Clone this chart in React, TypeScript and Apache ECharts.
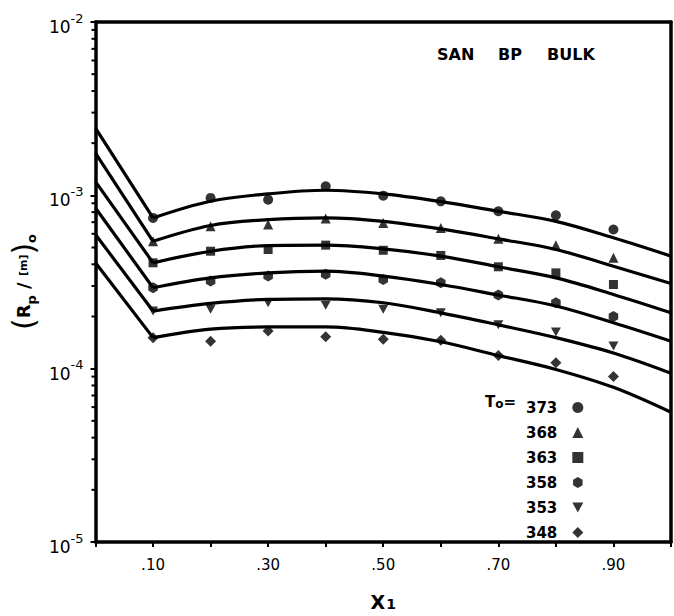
import React, { useEffect, useRef } from "react";
import * as echarts from "echarts";

const FONT = '"DejaVu Sans", "Liberation Sans", sans-serif';

// Fitted curves: a straight segment from x1 = 0 to the kink at 0.10, then a smooth fit to 1.0
const xKink = [0, 0.1];
const xFit = [0.1, 0.2, 0.3, 0.4, 0.5, 0.6, 0.7, 0.8, 0.9, 1.0];
const start373 = 2.44e-3;
const start368 = 1.75e-3;
const start363 = 1.2e-3;
const start358 = 8.45e-4;
const start353 = 5.94e-4;
const start348 = 4.08e-4;
const fit373 = [7.41e-4, 9.25e-4, 1.02e-3, 1.07e-3, 1.02e-3, 9.2e-4, 8.09e-4, 7.08e-4, 5.69e-4, 4.46e-4];
const fit368 = [5.43e-4, 6.7e-4, 7.24e-4, 7.41e-4, 7.08e-4, 6.4e-4, 5.61e-4, 4.87e-4, 3.9e-4, 3.1e-4];
const fit363 = [4.08e-4, 4.76e-4, 5.13e-4, 5.16e-4, 4.91e-4, 4.46e-4, 3.87e-4, 3.34e-4, 2.68e-4, 2.1e-4];
const fit358 = [2.93e-4, 3.34e-4, 3.57e-4, 3.65e-4, 3.42e-4, 3.06e-4, 2.66e-4, 2.3e-4, 1.84e-4, 1.44e-4];
const fit353 = [2.15e-4, 2.38e-4, 2.51e-4, 2.53e-4, 2.4e-4, 2.1e-4, 1.79e-4, 1.51e-4, 1.23e-4, 9.4e-5];
const fit348 = [1.51e-4, 1.69e-4, 1.74e-4, 1.74e-4, 1.62e-4, 1.43e-4, 1.19e-4, 9.9e-5, 7.8e-5, 5.6e-5];

// Measured points
const xPts = [0.1, 0.2, 0.3, 0.4, 0.5, 0.6, 0.7, 0.8, 0.9];
const pts373 = [7.41e-4, 9.66e-4, 9.44e-4, 1.127e-3, 9.96e-4, 9.23e-4, 8.09e-4, 7.67e-4, 6.35e-4];
const pts368 = [5.43e-4, 6.63e-4, 6.78e-4, 7.34e-4, 6.93e-4, 6.49e-4, 5.61e-4, 5.16e-4, 4.36e-4];
const pts363 = [4.08e-4, 4.76e-4, 4.87e-4, 5.16e-4, 4.82e-4, 4.5e-4, 3.87e-4, 3.57e-4, 3.06e-4];
const pts358 = [2.93e-4, 3.2e-4, 3.42e-4, 3.5e-4, 3.27e-4, 3.13e-4, 2.66e-4, 2.4e-4, 2.0e-4];
const pts353 = [2.15e-4, 2.2e-4, 2.4e-4, 2.32e-4, 2.2e-4, 2.1e-4, 1.79e-4, 1.63e-4, 1.35e-4];
const pts348 = [1.51e-4, 1.44e-4, 1.65e-4, 1.53e-4, 1.48e-4, 1.46e-4, 1.19e-4, 1.08e-4, 9.0e-5];

const temps = ["373", "368", "363", "358", "353", "348"];
const starts = [start373, start368, start363, start358, start353, start348];
const fits = [fit373, fit368, fit363, fit358, fit353, fit348];
const points = [pts373, pts368, pts363, pts358, pts353, pts348];
const symbols = [
  "circle",
  "triangle",
  "rect",
  "path://M5,0 L9.33,2.5 L9.33,7.5 L5,10 L0.67,7.5 L0.67,2.5 Z",
  "path://M0,0 L10,0 L5,9 Z",
  "diamond",
];
const symbolSizes = [10, 10, 9, 11, 10, 11];

// Log-axis minor tick positions (2..9 within each decade)
const decades = [1e-5, 1e-4, 1e-3];
const minorMultipliers = [2, 3, 4, 5, 6, 7, 8, 9];

// Title words
const titleWords = ["SAN", "BP", "BULK"];
const titleX = [437, 498, 547];

const frameLine = { show: true, onZero: false, lineStyle: { color: "#000", width: 3.5 } };

export default function App() {
  const ref = useRef<HTMLDivElement>(null);

  useEffect(() => {
    if (!ref.current) return;
    const chart = echarts.init(ref.current, null, { renderer: "svg" });

    const series: any[] = [];
    temps.forEach((t, i) => {
      series.push({
        type: "line",
        data: xKink.map((x, k) => [x, k === 0 ? starts[i] : fits[i][0]]),
        showSymbol: false,
        symbol: "none",
        lineStyle: { color: "#000", width: 3.2 },
        silent: true,
        z: 3,
      });
      series.push({
        type: "line",
        data: xFit.map((x, k) => [x, fits[i][k]]),
        smooth: 0.35,
        showSymbol: false,
        symbol: "none",
        lineStyle: { color: "#000", width: 3.2 },
        silent: true,
        z: 3,
      });
      series.push({
        name: t,
        type: "scatter",
        data: xPts.map((x, k) => [x, points[i][k]]),
        symbol: symbols[i],
        symbolSize: symbolSizes[i],
        symbolKeepAspect: true,
        itemStyle: { color: "#000" },
        z: 4,
      });
    });

    const minorTicks: number[][] = [];
    decades.forEach((d) => minorMultipliers.forEach((m) => minorTicks.push([0, d * m])));
    series.push({
      type: "custom",
      data: minorTicks,
      silent: true,
      renderItem: (params: any, api: any) => {
        const p = api.coord([api.value(0), api.value(1)]);
        return {
          type: "line",
          shape: { x1: p[0] - 4, y1: p[1], x2: p[0], y2: p[1] },
          style: { stroke: "#000", lineWidth: 2 },
        };
      },
      z: 5,
    });

    chart.setOption({
      animation: false,
      backgroundColor: "#fff",
      grid: {
        left: 92,
        right: 3,
        top: 22,
        bottom: 73,
        show: false,
      },
      xAxis: [
        {
          type: "value",
          min: 0,
          max: 1,
          interval: 0.1,
          axisLine: frameLine,
          axisTick: { show: true, inside: false, length: 5, lineStyle: { color: "#000", width: 2 } },
          splitLine: { show: false },
          axisLabel: {
            margin: 15,
            color: "#000",
            fontFamily: FONT,
            fontSize: 15,
            formatter: (v: number) => {
              const n = Math.round(v * 100);
              if (n <= 0 || n >= 100 || (n / 10) % 2 === 0) return "";
              return "." + String(n).padStart(2, "0");
            },
          },
          name: "{x|X}{n|1}",
          nameLocation: "middle",
          nameGap: 50,
          nameTextStyle: {
            rich: {
              x: { fontFamily: FONT, fontSize: 19, fontWeight: "bold", color: "#000" },
              n: {
                fontFamily: FONT,
                fontSize: 14,
                fontWeight: "bold",
                color: "#000",
                verticalAlign: "bottom",
                padding: [0, 0, 0, 1],
              },
            },
          },
        },
        {
          type: "value",
          position: "top",
          min: 0,
          max: 1,
          axisLine: frameLine,
          axisTick: { show: false },
          axisLabel: { show: false },
          splitLine: { show: false },
        },
      ],
      yAxis: [
        {
          type: "log",
          logBase: 10,
          min: 1e-5,
          max: 1e-2,
          axisLine: frameLine,
          axisTick: { show: true, inside: false, length: 5, lineStyle: { color: "#000", width: 2 } },
          splitLine: { show: false },
          minorTick: { show: false },
          axisLabel: {
            margin: 12,
            color: "#000",
            padding: [10, 0, 0, 0],
            formatter: (v: number) => `{b|10}{s|${Math.round(Math.log10(v))}}`,
            rich: {
              b: { fontFamily: FONT, fontSize: 17, lineHeight: 17, verticalAlign: "bottom", color: "#000" },
              s: {
                fontFamily: FONT,
                fontSize: 13,
                lineHeight: 14,
                verticalAlign: "bottom",
                padding: [0, 0, 11, 0],
                color: "#000",
              },
            },
          },
          name: "{p|(}{r|R}{sub|p}{r| / }{m|[m]}{p|)}{sub|o}",
          nameLocation: "middle",
          nameRotate: 90,
          nameGap: 43,
          nameTextStyle: {
            rich: {
              p: { fontFamily: FONT, fontSize: 30, color: "#000", fontWeight: "normal" },
              r: { fontFamily: FONT, fontSize: 18, fontWeight: "bold", color: "#000" },
              m: { fontFamily: FONT, fontSize: 11, fontWeight: "bold", color: "#000" },
              sub: {
                fontFamily: FONT,
                fontSize: 13,
                fontWeight: "bold",
                color: "#000",
                verticalAlign: "bottom",
              },
            },
          },
        },
        {
          type: "log",
          logBase: 10,
          position: "right",
          min: 1e-5,
          max: 1e-2,
          axisLine: frameLine,
          axisTick: { show: false },
          axisLabel: { show: false },
          splitLine: { show: false },
        },
      ],
      legend: {
        orient: "vertical",
        left: 521,
        top: 395,
        align: "right",
        itemWidth: 11,
        itemHeight: 11,
        itemGap: 10,
        selectedMode: false,
        data: temps,
        textStyle: {
          fontFamily: FONT,
          fontSize: 15,
          fontWeight: "bold",
          color: "#000",
          lineHeight: 14,
          padding: [0, 10, 0, 0],
        },
      },
      graphic: [
        ...titleWords.map((w, i) => ({
          type: "text",
          left: titleX[i],
          top: 46,
          style: {
            text: w,
            fontFamily: FONT,
            fontSize: 16,
            fontWeight: "bold",
            fill: "#000",
          },
        })),
        {
          type: "text",
          x: 516,
          y: 402,
          style: {
            text: "{t|T}{o|o}{t|=}",
            align: "right",
            verticalAlign: "middle",
            rich: {
              t: { fontFamily: FONT, fontSize: 15, fontWeight: "bold", fill: "#000", verticalAlign: "bottom" },
              o: {
                fontFamily: FONT,
                fontSize: 12,
                fontWeight: "bold",
                fill: "#000",
                verticalAlign: "bottom",
              },
            },
          },
        },
      ],
      series,
    });

    return () => chart.dispose();
  }, []);

  return (
    <div
      ref={ref}
      style={{ position: "fixed", left: 0, top: 0, width: 674, height: 616, background: "#fff" }}
    />
  );
}
